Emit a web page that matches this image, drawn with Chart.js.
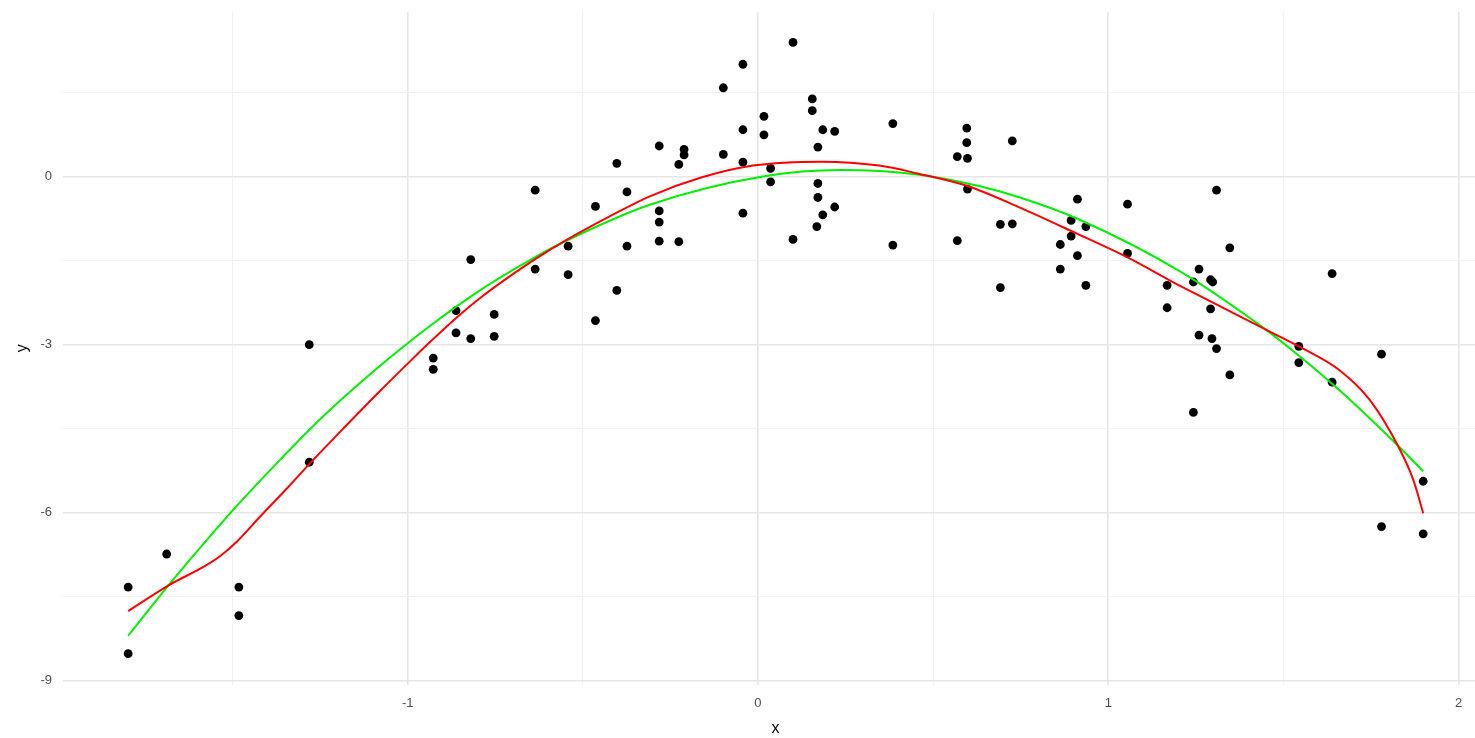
<!DOCTYPE html>
<html><head><meta charset="utf-8">
<script src="https://cdn.jsdelivr.net/npm/chart.js@4.4.1/dist/chart.umd.min.js"></script>
<style>
html,body{margin:0;padding:0;background:#fff;overflow:hidden;width:1475px;height:738px}
#wrap{position:absolute;left:0;top:0;width:1490px;height:738px}
</style>
</head><body><div id="wrap"><canvas id="c" width="1490" height="738"></canvas></div>
<script>
// ---- data ----
const pointX = [-1.798,-1.798,-1.688,-1.482,-1.482,-1.281,-1.281,-0.927,-0.927,-0.862,-0.862,-0.820,-0.820,-0.753,-0.753,
  -0.636,-0.636,-0.542,-0.542,-0.464,-0.464,-0.403,-0.403,-0.374,-0.374,-0.282,-0.282,-0.282,-0.282,-0.226,-0.226,
  -0.211,-0.211,-0.099,-0.099,-0.043,-0.043,-0.043,-0.043,0.017,0.017,0.036,0.036,0.100,0.100,0.155,0.155,
  0.171,0.171,0.171,0.168,0.185,0.185,0.219,0.219,0.385,0.385,0.569,0.569,0.596,0.596,0.598,0.598,
  0.692,0.692,0.726,0.726,0.863,0.863,0.894,0.894,0.912,0.912,0.936,0.936,1.055,1.055,1.168,1.168,
  1.243,1.243,1.259,1.259,1.292,1.298,1.292,1.296,1.309,1.309,1.347,1.347,1.544,1.544,1.639,1.639,
  1.780,1.780,1.899,1.899];
const pointY = [-7.33,-8.52,-6.74,-7.33,-7.84,-3.00,-5.10,-3.24,-3.44,-2.39,-2.79,-1.48,-2.89,-2.46,-2.85,
  -0.24,-1.65,-1.24,-1.75,-0.53,-2.57,0.24,-2.03,-0.27,-1.24,0.55,-0.61,-0.81,-1.15,0.22,-1.16,
  0.49,0.39,1.59,0.40,2.01,0.84,0.26,-0.65,1.08,0.75,0.15,-0.09,2.40,-1.12,1.39,1.18,
  0.53,-0.12,-0.37,-0.89,0.84,-0.68,0.81,-0.54,0.95,-1.22,0.36,-1.14,0.87,0.61,0.33,-0.22,
  -0.85,-1.98,0.64,-0.84,-1.21,-1.65,-0.78,-1.06,-0.40,-1.41,-0.89,-1.94,-0.49,-1.37,-1.94,-2.34,
  -1.88,-4.21,-1.65,-2.83,-1.84,-1.88,-2.36,-2.89,-0.24,-3.07,-1.27,-3.54,-3.03,-3.32,-1.73,-3.67,
  -3.17,-6.25,-5.44,-6.38];

const redX = [-1.798,-1.680,-1.583,-1.536,-1.488,-1.421,-1.345,-1.279,-1.184,-1.089,-0.984,-0.946,-0.856,-0.794,
  -0.700,-0.636,-0.550,-0.430,-0.309,-0.160,-0.014,0.182,0.346,0.455,0.596,0.748,0.912,1.055,1.205,1.243,
  1.443,1.547,1.661,1.747,1.828,1.871,1.899];
const redY = [-7.76,-7.29,-6.97,-6.78,-6.52,-6.07,-5.57,-5.12,-4.50,-3.89,-3.24,-3.01,-2.49,-2.17,
  -1.74,-1.47,-1.14,-0.73,-0.35,-0.01,0.20,0.27,0.20,0.06,-0.16,-0.55,-1.02,-1.44,-1.95,-2.07,
  -2.71,-3.04,-3.46,-3.99,-4.82,-5.42,-6.01];

const greenX = [-1.798,-1.683,-1.564,-1.488,-1.374,-1.279,-1.184,-1.089,-0.946,-0.784,-0.637,-0.556,-0.309,
  0.018,0.237,0.455,0.634,0.748,0.912,1.205,1.443,1.547,1.661,1.828,1.899];
const greenY = [-8.20,-7.30,-6.42,-5.88,-5.12,-4.51,-3.95,-3.43,-2.71,-1.99,-1.44,-1.17,-0.50,
  0.01,0.12,0.04,-0.17,-0.37,-0.75,-1.69,-2.70,-3.21,-3.82,-4.81,-5.26];

const xTickValues = [-1, 0, 1, 2];
const xTickLabels = ['-1', '0', '1', '2'];
const yTickValues = [-9, -6, -3, 0];
const yTickLabels = ['-9', '-6', '-3', '0'];
const xTitle = 'x';
const yTitle = 'y';

// ---- build chart ----
const zip = (xs, ys) => xs.map((x, i) => ({x: x, y: ys[i]}));
const findIdx = (arr, v) => arr.findIndex(t => Math.abs(t - v) < 1e-6);
const gridColor = (vals) => (ctx) => (ctx.tick && findIdx(vals, ctx.tick.value) >= 0) ? '#E6E6E6' : '#F1F1F1';
const gridWidth = (vals) => (ctx) => (ctx.tick && findIdx(vals, ctx.tick.value) >= 0) ? 1.6 : 1;
const FONT = '"Liberation Sans", Arial, Helvetica, sans-serif';

new Chart(document.getElementById('c'), {
  type: 'scatter',
  data: {
    datasets: [
      {label: 'red', data: zip(redX, redY), showLine: true, borderColor: '#FF0000', borderWidth: 2,
       pointRadius: 0, cubicInterpolationMode: 'monotone', order: 0},
      {label: 'green', data: zip(greenX, greenY), showLine: true, borderColor: '#00EE00', borderWidth: 2,
       pointRadius: 0, cubicInterpolationMode: 'monotone', order: 1},
      {label: 'points', data: zip(pointX, pointY), showLine: false, backgroundColor: '#000000',
       borderColor: '#000000', borderWidth: 0, pointRadius: 4.4, order: 2}
    ]
  },
  options: {
    responsive: false, animation: false, devicePixelRatio: 1,
    layout: {padding: {top: 10, right: 2, left: 0, bottom: 0}, autoPadding: false},
    plugins: {legend: {display: false}, tooltip: {enabled: false}},
    scales: {
      x: {
        type: 'linear', position: 'bottom', min: -1.984, max: 2.084,
        border: {display: false},
        grid: {drawTicks: false, color: gridColor(xTickValues), lineWidth: gridWidth(xTickValues)},
        ticks: {stepSize: 0.5, includeBounds: false, autoSkip: false, maxRotation: 0, padding: 11,
          color: '#4D4D4D', font: {family: FONT, size: 13},
          callback: (v) => { const i = findIdx(xTickValues, v); return i >= 0 ? xTickLabels[i] : ''; }},
        title: {display: true, text: xTitle, color: '#000', font: {family: FONT, size: 16, lineHeight: 1.2},
          padding: {top: 0, bottom: 0}},
        afterFit: (s) => { s.height = 53; }
      },
      y: {
        type: 'linear', position: 'left', min: -9.08, max: 2.95,
        border: {display: false},
        grid: {drawTicks: false, color: gridColor(yTickValues), lineWidth: gridWidth(yTickValues)},
        ticks: {stepSize: 1.5, includeBounds: false, autoSkip: false, padding: 11,
          color: '#4D4D4D', font: {family: FONT, size: 13, lineHeight: 0.1},
          callback: (v) => { const i = findIdx(yTickValues, v); return i >= 0 ? yTickLabels[i] : ''; }},
        title: {display: true, text: yTitle, color: '#000', font: {family: FONT, size: 16, lineHeight: 1.2},
          padding: {top: 13, bottom: 0}},
        afterFit: (s) => { s.width = 63; }
      }
    }
  }
});
</script></body></html>
